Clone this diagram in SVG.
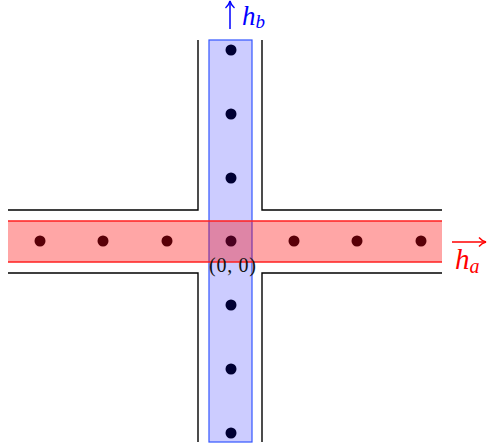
<svg xmlns="http://www.w3.org/2000/svg" width="487" height="448" viewBox="0 0 487 448">
<style>
.wall{stroke:#000;stroke-width:1.4;fill:none}
.dr{fill:#5a0008}
.db{fill:#000033}
.lbl{font-family:"Liberation Serif",serif;font-style:italic}
</style>
<defs>
<marker id="ab" markerWidth="10" markerHeight="12" refX="8" refY="6" orient="auto" markerUnits="userSpaceOnUse">
<path d="M1,1.5 Q4,5 8,6 Q4,7 1,10.5" fill="none" stroke="#0000ff" stroke-width="1.4"/>
</marker>
<marker id="ar" markerWidth="10" markerHeight="12" refX="8" refY="6" orient="auto" markerUnits="userSpaceOnUse">
<path d="M1,1.5 Q4,5 8,6 Q4,7 1,10.5" fill="none" stroke="#ff0000" stroke-width="1.4"/>
</marker>
</defs>
<g id="walls">
<path class="wall" d="M198,40 V210 H8"/>
<path class="wall" d="M262,40 V210 H442"/>
<path class="wall" d="M198,442 V273 H8"/>
<path class="wall" d="M262,442 V273 H442"/>
</g>
<g id="band-b">
<rect x="209" y="40" width="43" height="402" fill="#ccccff" stroke="#3355ff" stroke-width="1.2"/>
</g>
<g id="band-a">
<rect x="8" y="221" width="434" height="41" fill="#ff0000" fill-opacity="0.35" stroke="none"/>
<path d="M8,221 H442 M8,262 H442" stroke="#ff2020" stroke-width="1.4"/>
</g>
<g id="dots-b" class="db">
<circle cx="231" cy="50" r="5.5"/>
<circle cx="231" cy="114" r="5.5"/>
<circle cx="231" cy="178" r="5.5"/>
<circle cx="231" cy="305" r="5.5"/>
<circle cx="231" cy="369" r="5.5"/>
<circle cx="231" cy="433" r="5.5"/>
</g>
<g id="dots-a" class="dr">
<circle cx="40" cy="241" r="5.5"/>
<circle cx="103" cy="241" r="5.5"/>
<circle cx="167" cy="241" r="5.5"/>
<circle cx="231" cy="241" r="5.5" fill="#4a0020"/>
<circle cx="294" cy="241" r="5.5"/>
<circle cx="357" cy="241" r="5.5"/>
<circle cx="421" cy="241" r="5.5"/>
</g>
<g id="origin">
<text x="209" y="272" font-family="Liberation Serif,serif" font-size="20" textLength="47" lengthAdjust="spacing" fill="#111">(0, 0)</text>
</g>
<g id="connectors">
<line x1="230" y1="29" x2="230" y2="1" stroke="#0000ff" stroke-width="1.5" marker-end="url(#ab)"/>
<line x1="452" y1="242" x2="486" y2="242" stroke="#ff0000" stroke-width="1.5" marker-end="url(#ar)"/>
</g>
<g id="label-b">
<text x="242" y="25" class="lbl" font-size="27" fill="#0000ff">h<tspan font-size="19" dy="3">b</tspan></text>
</g>
<g id="label-a">
<text x="455" y="269" class="lbl" font-size="29" fill="#ff0000">h<tspan font-size="20" dy="4">a</tspan></text>
</g>
</svg>
